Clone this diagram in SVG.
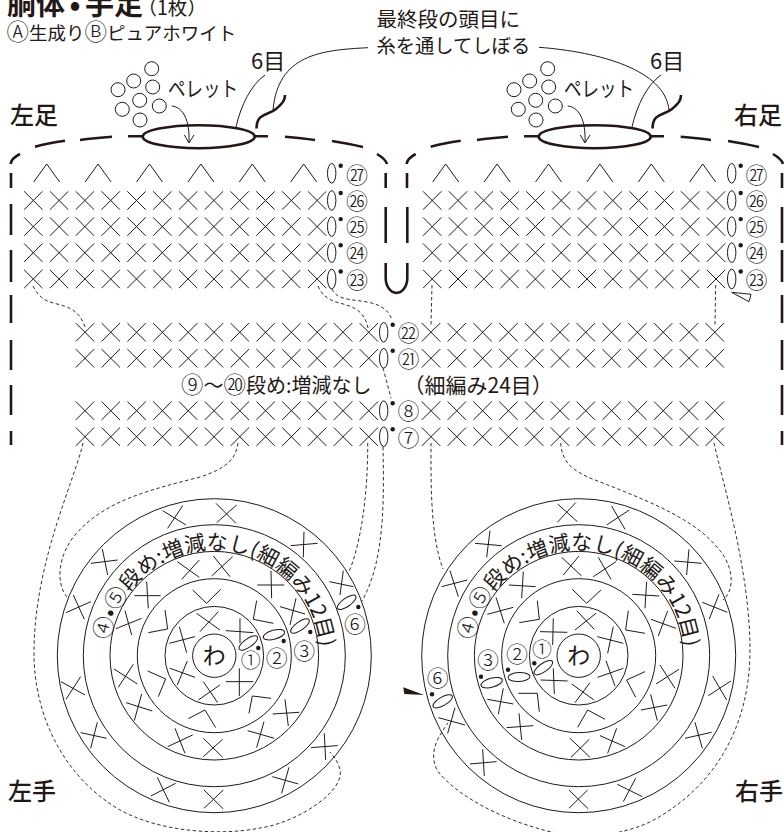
<svg xmlns="http://www.w3.org/2000/svg" xmlns:xlink="http://www.w3.org/1999/xlink" width="784" height="832" viewBox="0 0 784 832">
<style>
text{font-family:"Noto Sans CJK JP","Noto Sans",sans-serif;fill:#231815;font-weight:400}
.thin{fill:none;stroke:#231815;stroke-width:1}
.thick{fill:none;stroke:#231815;stroke-width:2.6}
.dash{fill:none;stroke:#231815;stroke-width:.9;stroke-dasharray:3.5 2.5}
.dot{fill:#231815}
.pel{fill:#fff;stroke:#231815;stroke-width:1}
.z{fill:none;stroke:#231815;stroke-width:3}
.n{font-size:22px;text-anchor:middle;font-weight:300}
.c{font-size:22.5px;font-weight:300}
.l{font-size:24px;font-weight:500}
.b{font-weight:700}
</style>
<defs>
<path id="x" class="thin" d="M-9.2,-9.2L9.2,9.2M-9.2,9.2L9.2,-9.2"/>
<g id="row">
<use href="#x" x="0"/><use href="#x" x="25.8"/><use href="#x" x="51.6"/><use href="#x" x="77.4"/><use href="#x" x="103.2"/><use href="#x" x="129"/><use href="#x" x="154.8"/><use href="#x" x="180.6"/><use href="#x" x="206.4"/><use href="#x" x="232.2"/><use href="#x" x="258"/><use href="#x" x="283.8"/>
</g>
<path id="v" class="thin" d="M-13,9L0,-9L13,9"/>
<g id="vrow">
<use href="#v" x="0"/><use href="#v" x="51.4"/><use href="#v" x="102.8"/><use href="#v" x="154.2"/><use href="#v" x="205.6"/><use href="#v" x="257"/>
</g>
<g id="end"><ellipse class="thin" cx="0" cy="0" rx="4.2" ry="9.8"/><circle class="dot" cx="9" cy="-7.5" r="2.2"/></g>
<g id="pellets">
<circle class="pel" cx="151.7" cy="68.7" r="7"/><circle class="pel" cx="133.7" cy="81" r="7"/><circle class="pel" cx="118" cy="89.7" r="7"/><circle class="pel" cx="152.7" cy="87" r="7"/><circle class="pel" cx="139.7" cy="100.3" r="7"/><circle class="pel" cx="122.3" cy="109.3" r="7"/><circle class="pel" cx="159.3" cy="106" r="7"/><circle class="pel" cx="140" cy="120" r="7"/>
<path class="thin" d="M171.7,106C183,107 190,120 189,143M184.3,135L189,143L194,135"/>
<ellipse cx="198.7" cy="136.7" rx="56" ry="11.5" fill="none" stroke="#231815" stroke-width="2.6"/>
<path class="thick" d="M128,136.3H142M255,136.3H268M256.5,128.5C257,112 268,116 276,109C283,103 285,100 285,95"/>
<path class="thin" d="M236,127C241,105 251,85 265,75"/>
</g>
<g id="rings">
<circle class="thin" r="21.7"/><circle class="thin" r="49.3"/><circle class="thin" r="77"/><circle class="thin" r="104.3"/><circle class="thin" r="131"/><circle class="thin" r="157"/>
</g>
<path id="arc" d="M-106,0A106,106 0 0 1 106,0"/>
</defs>

<g id="title">
<text class="b" x="7" y="15" font-size="29">胴体<tspan dx="4.5">•</tspan><tspan dx="4.5">手足</tspan></text>
<text x="137.5" y="15" font-size="19.5">（1枚）</text>
<text x="6.5" y="40" font-size="18.5"><tspan class="c">Ⓐ</tspan>生成り<tspan class="c">Ⓑ</tspan>ピュアホワイト</text>
<text x="376.5" y="27" font-size="20.5">最終段の頭目に</text>
<text x="376.5" y="53" font-size="19.3">糸を通してしぼる</text>
</g>

<g id="connectors">
<path class="thin" d="M368,47.7C320,50 278,55 273,110"/>
<path class="thin" d="M539,47.3C600,52 665,70 669,110"/>
<path class="dash" d="M33,286C38,296 44,300 50,302C62,306 78,306 85,327"/>
<path class="dash" d="M318,286C322,296 330,300 336,302C350,306 364,308 368,328"/>
<path class="dash" d="M332,289C335,297 345,299 353,300C370,302 387,304 392,320"/>
<path class="dash" d="M383,368L391,398"/>
<path class="dash" d="M83,443C75,480 35,560 34,650C33,710 60,775 120,810C160,832 220,836 260,828C300,822 345,790 340,770C338,760 332,755 330,752"/>
<path class="dash" d="M238,443C236,458 228,468 200,477C150,490 105,500 75,535C58,555 55,585 68,598"/>
<path class="dash" d="M367.7,443C368,490 362,540 349,572"/>
<path class="dash" d="M383,447C384,500 385,560 362,601"/>
<path class="dash" d="M432,285L431,325"/>
<path class="dash" d="M715.7,285L715,325"/>
<path class="dash" d="M431,443C431,480 430,535 443,569"/>
<path class="dash" d="M560.7,443C562,462 572,470 590,478C630,494 690,515 715,545C735,565 735,590 723,600"/>
<path class="dash" d="M714,443C722,480 750,570 750,650C750,720 720,785 650,822C610,840 570,838 540,829C500,818 455,795 437,770C430,755 434,742 448,723"/>
</g>

<g id="left-foot">
<path class="thick" d="M20,154C14,157 11,160 10.7,164M11,173V188M11,204V235M11,250V282M35,146.7C44,144 55,142 65,140.7M80,140C90,138.5 100,137.5 112,136.7M285,136.7C295,137.5 305,138.5 315,140M332,141C342,142.5 352,144.5 363,147M377,154C382,157 386,160 387,164M385.7,173V188M385.7,207V243M385.7,263V278A10.8,15 0 0 0 407.3,278V263"/>
<use href="#pellets"/>
<text x="168" y="96" font-size="21" textLength="70" lengthAdjust="spacingAndGlyphs">ペレット</text>
<text x="251" y="69" font-size="22">6目</text>
<text class="l" x="10" y="124">左足</text>
<use href="#vrow" x="46.7" y="173"/>
<use href="#row" x="33.3" y="200.5"/><use href="#row" x="33.3" y="226.6"/><use href="#row" x="33.3" y="252.7"/><use href="#row" x="33.3" y="279"/>
<use href="#end" x="331.7" y="173.3"/><use href="#end" x="331.7" y="200.5"/><use href="#end" x="331.7" y="226.6"/><use href="#end" x="331.7" y="252.7"/><use href="#end" x="331.7" y="279"/>
<text class="n" x="357" y="182.5">㉗</text><text class="n" x="357" y="209">㉖</text><text class="n" x="357" y="235">㉕</text><text class="n" x="357" y="261.2">㉔</text><text class="n" x="357" y="287.5">㉓</text>
</g>

<g id="right-foot">
<path class="thick" d="M407,188V173M407.3,243V207M415.7,154C410,157 407,160 406.7,164M430.7,146.7C440,144 451,142 460.7,140.7M477,140C487,138.5 497,137.5 508,136.7M680.7,136.7C691,137.5 701,138.5 711,140M728,141C738,142.5 748,144.5 759,147M773,154C778,157 782,160 783,164M782,173V188M782,207V243M782,250V282M782,295V323M782,340V370M782,385V415M782,431V445"/>
<use href="#pellets" x="396"/>
<text x="564" y="96" font-size="21" textLength="70" lengthAdjust="spacingAndGlyphs">ペレット</text>
<text x="650" y="69" font-size="22">6目</text>
<text class="l" x="734" y="124">右足</text>
<use href="#vrow" x="445.7" y="173"/>
<use href="#row" x="432.2" y="200.5"/><use href="#row" x="432.2" y="226.6"/><use href="#row" x="432.2" y="252.7"/><use href="#row" x="432.2" y="279"/>
<use href="#end" x="731.7" y="173.3"/><use href="#end" x="731.7" y="200.5"/><use href="#end" x="731.7" y="226.6"/><use href="#end" x="731.7" y="252.7"/><use href="#end" x="731.7" y="279"/>
<text class="n" x="756.5" y="182.5">㉗</text><text class="n" x="756.5" y="209">㉖</text><text class="n" x="756.5" y="235">㉕</text><text class="n" x="756.5" y="261.2">㉔</text><text class="n" x="756.5" y="287.5">㉓</text>
<path class="thin" d="M731.7,292.3L751,294.3L749,301.7Z"/>
</g>

<g id="body">
<path class="thick" d="M11,295V323M11,340V370M11,385V415M11,431V445"/>
<use href="#row" x="85" y="332.3"/><use href="#row" x="85" y="358.3"/><use href="#row" x="85" y="410.7"/><use href="#row" x="85" y="436.7"/>
<use href="#row" x="431" y="332.3"/><use href="#row" x="431" y="358.3"/><use href="#row" x="431" y="410.7"/><use href="#row" x="431" y="436.7"/>
<use href="#end" x="383.7" y="332.3"/><use href="#end" x="383.7" y="358.3"/><use href="#end" x="383.7" y="410.7"/><use href="#end" x="383.7" y="436.7"/>
<text class="n" x="408.5" y="341.2">㉒</text><text class="n" x="408.5" y="367.2">㉑</text><text class="n" x="408.5" y="419.2">⑧</text><text class="n" x="408.5" y="445.5">⑦</text>
<text x="181" y="393" font-size="20"><tspan class="c">⑨</tspan>～<tspan class="c">⑳</tspan>段め:増減なし</text>
<text x="403.5" y="393" font-size="21">（細編み24目）</text>
</g>

<g id="left-hand">
<use href="#rings" x="214.3" y="655.7"/>
<text x="214.3" y="664" font-size="23" text-anchor="middle">わ</text>
<text font-size="21" letter-spacing=".2" transform="translate(214.3,655.7)"><textPath href="#arc" startOffset="15"><tspan class="c">④</tspan>•<tspan class="c">⑤</tspan>段め:増減なし(細編み12目)</textPath></text>
<g transform="translate(40,480) scale(.3333)">
<path class="z" d="M470,400L540,450M480,455L535,395M558,452L640,458M600,415L600,490M558,605L640,605M598,565L598,648M475,660L540,615M490,605L533,668M390,565L465,592M442,543L412,615M388,490L465,470M418,440L440,518"/>
<path class="z" d="M458,330L500,370L542,328M650,362L640,418L700,430M627,700L637,648L693,655M445,716L495,690L527,743M323,573L377,597L355,650M325,458L383,447L375,390"/>
<path class="z" d="M652,315L733,315M693,272L695,355M720,380L795,402M768,355L750,435M698,702L778,697M735,658L745,738M623,752L703,775M672,725L650,803M490,775L548,832M548,778L490,830M383,800L458,765M405,745L435,820M258,668L337,693M305,642L283,722M222,567L292,612M280,553L235,622M228,446L305,415M255,392L275,465M283,347L362,347M320,305L325,385M412,245L478,292M478,240L425,298M515,288L578,230M520,228L570,290"/>
<path class="z" d="M368,92L438,135M428,77L383,145M528,70L588,130M590,75L530,128M752,197L833,190M792,155L790,232M910,272L900,345M868,305L940,320M813,803L893,797M853,760L857,840M697,890L775,912M747,862L725,940M492,930L550,987M550,930L492,985M333,948L407,910M352,892L388,967M122,758L200,775M172,727L152,805M63,605L135,645M122,590L78,658M78,398L153,365M100,345L133,418M153,250L233,240M187,207L203,285"/>
</g>
<ellipse class="thin" cx="248.3" cy="643" rx="11" ry="4.2" transform="rotate(-35 248.3 643)"/>
<ellipse class="thin" cx="274" cy="634.7" rx="11" ry="4.5" transform="rotate(-15 274 634.7)"/>
<ellipse class="thin" cx="300" cy="626" rx="11" ry="4.2" transform="rotate(-35 300 626)"/>
<ellipse class="thin" cx="346.7" cy="602.3" rx="11" ry="4.2" transform="rotate(-35 346.7 602.3)"/>
<circle class="dot" cx="258.3" cy="648" r="2.2"/><circle class="dot" cx="283.7" cy="641" r="2.2"/><circle class="dot" cx="310.3" cy="632" r="2.2"/><circle class="dot" cx="358.3" cy="607" r="2.2"/>
<text x="250.7" y="668" font-size="20" text-anchor="middle" style="font-weight:300">①</text>
<text class="n" x="276.7" y="665.8">②</text><text class="n" x="304.3" y="658.8">③</text><text class="n" x="355" y="631.5">⑥</text>
<text class="l" x="8" y="800">左手</text>
</g>

<g id="right-hand">
<use href="#rings" x="578.7" y="655.7"/>
<text x="578.7" y="664" font-size="23" text-anchor="middle">わ</text>
<text font-size="21" letter-spacing=".2" transform="translate(578.7,655.7)"><textPath href="#arc" startOffset="15"><tspan class="c">④</tspan>•<tspan class="c">⑤</tspan>段め:増減なし(細編み12目)</textPath></text>
<g transform="translate(395,480) scale(.3333)">
<path class="z" d="M540,450L603,400M545,392L598,448M435,455L517,457M475,415L473,495M607,470L685,490M655,440L638,520M608,592L685,565M633,542L660,618M530,612L597,660M585,608L540,668M437,600L518,603M475,565L478,642"/>
<path class="z" d="M532,328L575,370L618,330M700,392L692,450L750,460M750,575L695,600L722,652M548,742L578,690L630,718M370,640L427,640L433,695M373,428L433,418L427,362"/>
<path class="z" d="M500,232L560,288M552,228L505,285M595,290L663,245M610,232L648,298M712,343L793,348M755,305L750,385M768,418L843,445M818,393L790,468M783,612L852,568M795,555L840,625M738,690L817,675M767,643L787,722M615,767L690,800M665,745L638,820M525,775L585,832M583,778L528,832M335,743L415,737M372,700L380,780M277,658L355,672M325,625L310,703M277,403L355,382M303,352L328,430M342,315L422,320M385,275L380,355"/>
<path class="z" d="M487,127L542,68M488,72L547,125M635,135L703,90M650,78L690,148M838,243L920,250M882,208L875,285M922,367L997,397M972,343L943,417M940,647L1008,603M953,588L995,660M870,775L950,757M900,727L922,805M667,913L742,950M722,895L685,965M522,930L580,987M578,930L522,985M225,852L305,845M263,808L268,888M130,713L210,735M180,683L158,760M140,320L217,300M165,272L190,350M240,190L320,197M285,152L275,232"/>
</g>
<ellipse class="thin" cx="543.3" cy="667.7" rx="11" ry="4.2" transform="rotate(-35 543.3 667.7)"/>
<ellipse class="thin" cx="519" cy="677" rx="11" ry="4.5" transform="rotate(-3 519 677)"/>
<ellipse class="thin" cx="491.7" cy="682.7" rx="11" ry="4.5" transform="rotate(-15 491.7 682.7)"/>
<ellipse class="thin" cx="442.7" cy="701.3" rx="11" ry="4.2" transform="rotate(-30 442.7 701.3)"/>
<circle class="dot" cx="534.3" cy="663.3" r="2.2"/><circle class="dot" cx="508" cy="669.7" r="2.2"/><circle class="dot" cx="481" cy="676.7" r="2.2"/><circle class="dot" cx="432" cy="694.3" r="2.2"/>
<text x="542" y="656.7" font-size="20" text-anchor="middle" style="font-weight:300">①</text>
<text class="n" x="517" y="662.2">②</text><text class="n" x="488" y="667.5">③</text><text class="n" x="437.7" y="685.8">⑥</text>
<path class="dot" d="M403.3,687.3L404.3,694L424,695Z"/>
<text class="l" x="735" y="800">右手</text>
</g>
</svg>
